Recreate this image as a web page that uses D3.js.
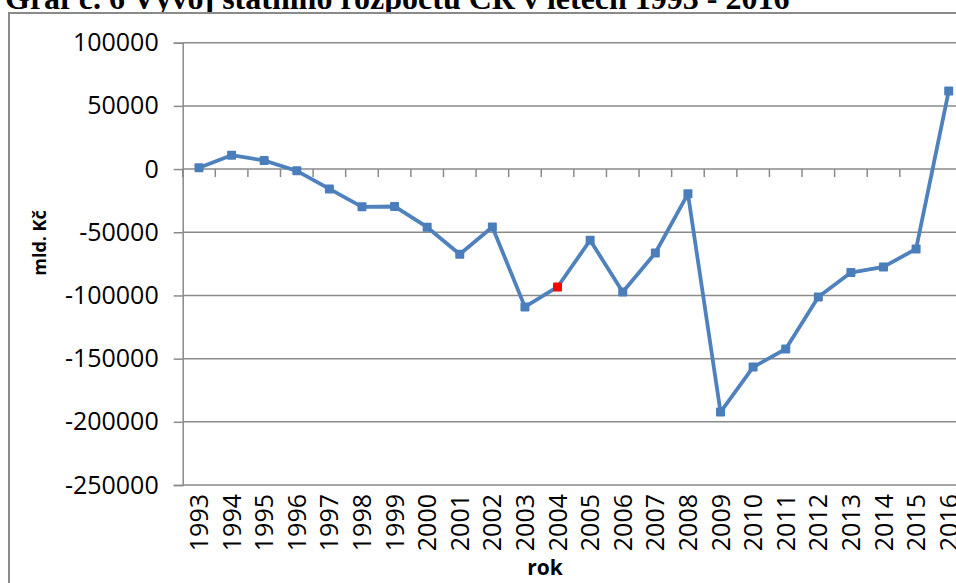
<!DOCTYPE html>
<html>
<head>
<meta charset="utf-8">
<script src="https://cdn.jsdelivr.net/npm/d3@7"></script>
<style>
  html, body { margin: 0; padding: 0; background: #fff; overflow: hidden; }
  svg { display: block; }
  .tick-label { font-family: "Open Sans", sans-serif; font-size: 25px; fill: #000; }
  .axis-title { font-family: "Open Sans", sans-serif; font-weight: bold; fill: #000; }
</style>
</head>
<body>
<svg id="chart" width="956" height="583"></svg>
<script>
const years = ["1993", "1994", "1995", "1996", "1997", "1998", "1999", "2000", "2001", "2002",
  "2003", "2004", "2005", "2006", "2007", "2008", "2009", "2010", "2011", "2012",
  "2013", "2014", "2015", "2016"];
const balance = [1000, 11000, 6800, -1400, -15700, -29900, -29600, -46000, -67400, -45800,
  -109100, -93300, -56300, -97300, -66400, -19600, -192300, -156700, -142400, -101200,
  -81900, -77400, -63200, 61700];
const highlightYear = "2004";
const yTicks = [100000, 50000, 0, -50000, -100000, -150000, -200000, -250000];

const svg = d3.select("#chart");
const plot = { left: 182.7, right: 965, top: 42.7, bottom: 485 };

const x = d3.scaleBand().domain(years).range([plot.left, plot.right]).paddingInner(0).paddingOuter(0);
const y = d3.scaleLinear().domain([-250000, 100000]).range([plot.bottom, plot.top]);

// title (cut off at top of the picture)
svg.append("text")
  .attr("x", 5)
  .attr("y", 9)
  .attr("font-family", "'Liberation Serif', 'Times New Roman', serif")
  .attr("font-weight", "bold")
  .attr("font-size", 32)
  .text("Graf č. 6 Vývoj státního rozpočtu ČR v letech 1993 - 2016");

// chart frame
svg.append("rect")
  .attr("x", 9)
  .attr("y", 13)
  .attr("width", 1000)
  .attr("height", 700)
  .attr("fill", "#fff")
  .attr("stroke", "#8a8a8a")
  .attr("stroke-width", 2);

// grid + y axis
const yAxis = svg.append("g")
  .attr("transform", `translate(${plot.left},0)`)
  .call(d3.axisLeft(y).tickValues(yTicks).tickSize(9).tickPadding(15).tickFormat(d => String(d)));
yAxis.select(".domain").attr("stroke", "#8a8a8a").attr("stroke-width", 1.5);
yAxis.selectAll(".tick line").attr("stroke", "#8a8a8a").attr("stroke-width", 1.5);
yAxis.selectAll(".tick text").attr("class", "tick-label").attr("font-size", null).attr("font-family", null);

svg.append("g")
  .selectAll("line")
  .data(yTicks)
  .join("line")
  .attr("x1", plot.left)
  .attr("x2", plot.right)
  .attr("y1", d => y(d))
  .attr("y2", d => y(d))
  .attr("stroke", "#8a8a8a")
  .attr("stroke-width", 1.5);

// x axis along zero with ticks between categories
const boundaries = years.map(d => x(d)).concat([x(years[years.length - 1]) + x.step()]);
svg.append("g")
  .selectAll("line")
  .data(boundaries)
  .join("line")
  .attr("x1", d => d)
  .attr("x2", d => d)
  .attr("y1", y(0))
  .attr("y2", y(0) + 8)
  .attr("stroke", "#8a8a8a")
  .attr("stroke-width", 1.5);

// x labels (rotated, at bottom)
svg.append("g")
  .selectAll("text")
  .data(years)
  .join("text")
  .attr("class", "tick-label")
  .attr("text-anchor", "end")
  .attr("dy", "0.36em")
  .attr("transform", d => `translate(${x(d) + x.bandwidth() / 2},494) rotate(-90)`)
  .text(d => d);

// series
const points = years.map((yr, i) => ({ year: yr, value: balance[i] }));
const line = d3.line()
  .x(d => x(d.year) + x.bandwidth() / 2)
  .y(d => y(d.value));

svg.append("path")
  .datum(points)
  .attr("fill", "none")
  .attr("stroke", "#4f81bd")
  .attr("stroke-width", 3.8)
  .attr("stroke-linejoin", "round")
  .attr("d", line);

svg.append("g")
  .selectAll("rect")
  .data(points)
  .join("rect")
  .attr("x", d => x(d.year) + x.bandwidth() / 2 - 4.5)
  .attr("y", d => y(d.value) - 4.5)
  .attr("width", 9)
  .attr("height", 9)
  .attr("rx", 1)
  .attr("fill", d => d.year === highlightYear ? "#ff0000" : "#4a7ebb");

// axis titles
svg.append("text")
  .attr("class", "axis-title")
  .attr("font-size", 18)
  .attr("text-anchor", "middle")
  .attr("transform", "translate(46,243) rotate(-90)")
  .text("mld. Kč");

svg.append("text")
  .attr("class", "axis-title")
  .attr("font-size", 21)
  .attr("text-anchor", "middle")
  .attr("x", 545)
  .attr("y", 575)
  .text("rok");
</script>
</body>
</html>
